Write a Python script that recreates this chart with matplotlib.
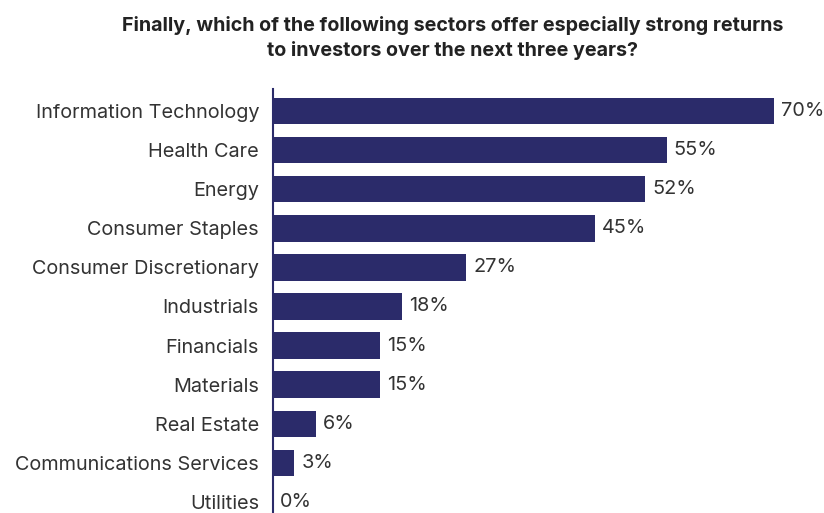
import matplotlib.pyplot as plt

# Survey responses, top to bottom
sectors = ["Information Technology", "Health Care", "Energy", "Consumer Staples",
           "Consumer Discretionary", "Industrials", "Financials", "Materials",
           "Real Estate", "Communications Services", "Utilities"]
shares = [70, 55, 52, 45, 27, 18, 15, 15, 6, 3, 0]

bar_color = "#2b2b6a"
text_color = "#333333"

plt.rcParams['font.family'] = ['Inter', 'DejaVu Sans']

fig = plt.figure(figsize=(8.24, 5.13), dpi=100)
ax = fig.add_axes([273 / 824, 0.0, (774 - 273) / 824 * 1.0, (513 - 89) / 513])

ypos = list(range(len(sectors)))
ax.barh(ypos, shares, height=0.68, color=bar_color)
ax.set_xlim(0, 70)
ax.set_ylim(len(sectors) - 1 + 0.28, -0.56)

ax.set_yticks(ypos)
ax.set_yticklabels(sectors, fontsize=14.3, color=text_color)
ax.tick_params(axis='y', length=0, pad=10)
ax.set_xticks([])

for s in ["top", "right", "bottom"]:
    ax.spines[s].set_visible(False)
ax.spines["left"].set_color(bar_color)
ax.spines["left"].set_linewidth(1.5)

for y, v in zip(ypos, shares):
    ax.annotate(f"{v}%", (v, y), xytext=(5, 0), textcoords="offset points",
                va="center", ha="left", fontsize=14.3, color=text_color,
                annotation_clip=False)

fig.text(0.549, 0.925, "Finally, which of the following sectors offer especially strong returns\n"
         "to investors over the next three years?", ha="center", va="center",
         fontsize=14.2, fontweight="bold", color="#222222", linespacing=1.4)

fig.savefig("out.png", dpi=100)
